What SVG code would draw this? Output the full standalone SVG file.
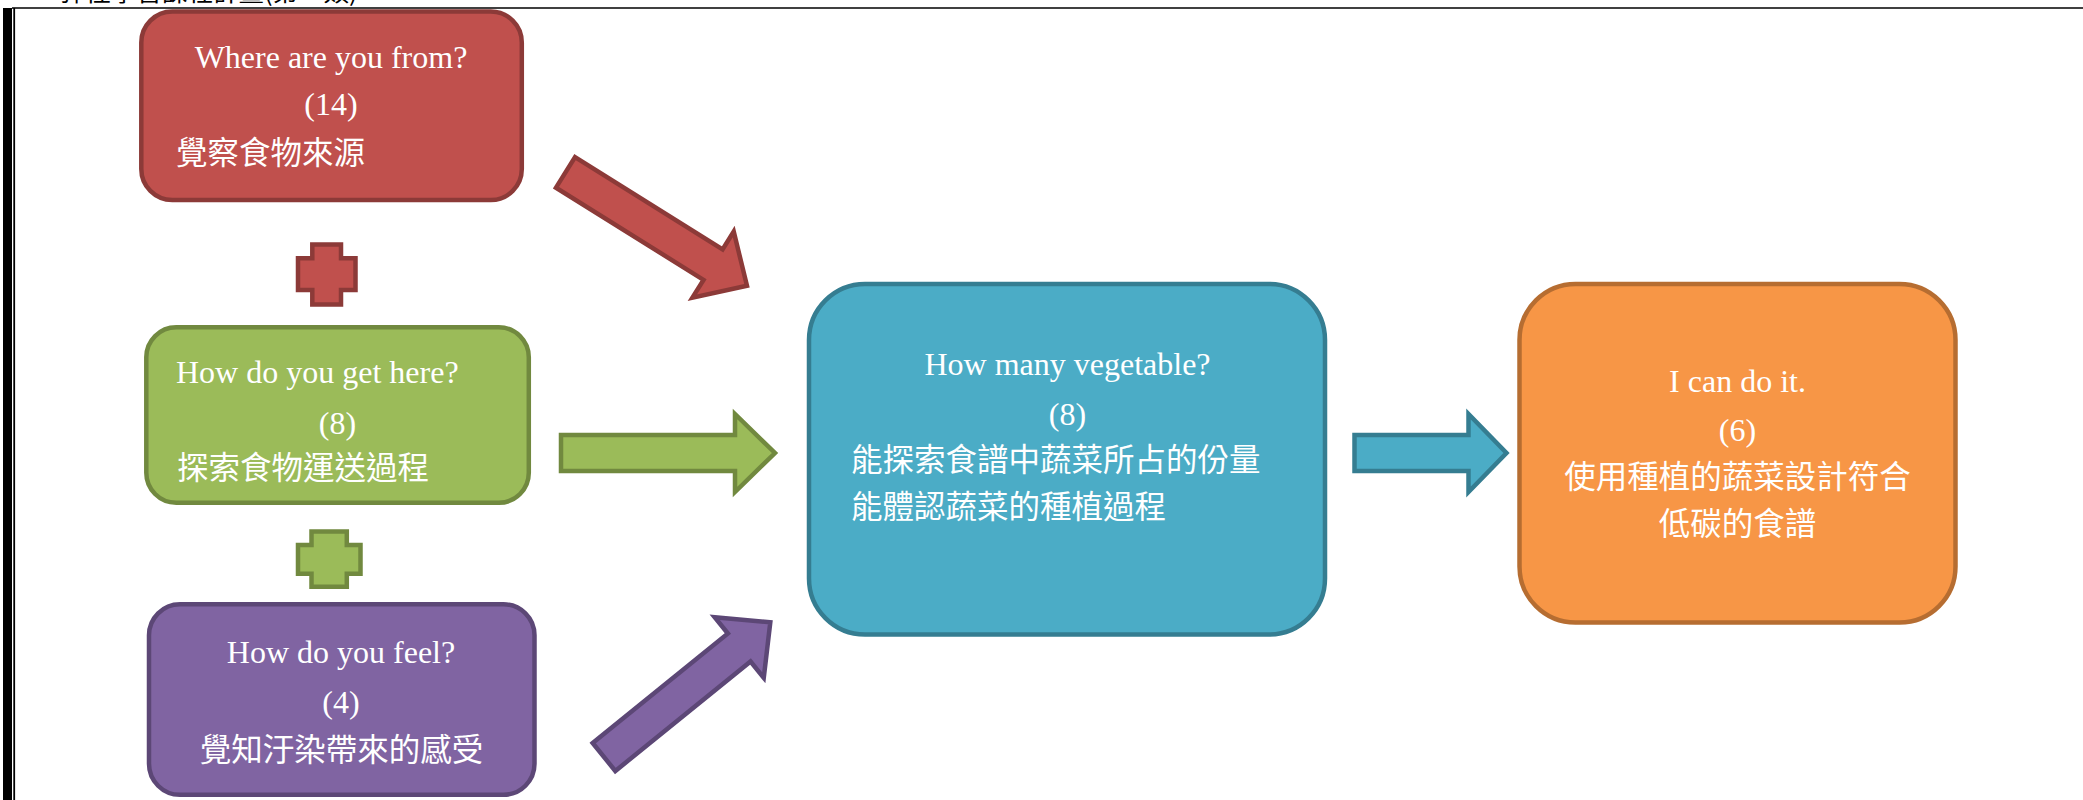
<svg xmlns="http://www.w3.org/2000/svg" xmlns:xlink="http://www.w3.org/1999/xlink" width="2083" height="800" viewBox="0 0 2083 800">
<style>
.en{font-family:"Liberation Serif","Times New Roman",serif;font-size:32px;fill:#ffffff}
.zh{font-family:"Noto Sans CJK TC","Noto Sans CJK SC",sans-serif;font-size:31.5px;fill:#ffffff}
.mid{text-anchor:middle}
.box{stroke-width:4.5}
.arw{stroke-width:4.5;stroke-linejoin:miter}
.red{fill:#C0504D;stroke:#8C3A38}
.green{fill:#9BBB59;stroke:#71893F}
.purple{fill:#8064A2;stroke:#5C4776}
.blue{fill:#4BACC6;stroke:#357D91}
.orange{fill:#F79646;stroke:#B66D31}
</style>
<defs>
<path id="arrowLong" d="M0,-18 L174,-18 L174,-39 L214,0 L174,39 L174,18 L0,18 Z"/>
<path id="arrowShort" d="M0,-18 L114,-18 L114,-39 L152,0 L114,39 L114,18 L0,18 Z"/>
</defs>
<rect x="0" y="0" width="2083" height="800" fill="#ffffff"/>
<g id="page-frame">
<text x="60" y="0.5" style="font-family:'Noto Sans CJK TC',sans-serif;font-size:25.5px;fill:#000">彈性學習課程計畫(第一類)</text>
<line x1="12" y1="8" x2="2083" y2="8" stroke="#000" stroke-width="1.3"/>
<rect x="3" y="8" width="9" height="792" fill="#000"/>
<rect x="13.3" y="8" width="1.8" height="792" fill="#000"/>
</g>
<g id="connectors">
<use xlink:href="#arrowLong" class="arw red" transform="translate(565.5,172.4) rotate(32)"/>
<use xlink:href="#arrowLong" class="arw green" transform="translate(561,453)"/>
<use xlink:href="#arrowLong" class="arw purple" transform="translate(604,757) rotate(-39)"/>
<use xlink:href="#arrowShort" class="arw blue" transform="translate(1354.5,453)"/>
<path id="plus-red" class="arw red" d="M312.3,244.5 H341 V258.3 H355.5 V290 H341 V304.5 H312.3 V290 H298 V258.3 H312.3 Z"/>
<path id="plus-green" class="arw green" d="M311.5,531.5 H346.8 V545 H360.5 V573.8 H346.8 V586.8 H311.5 V573.8 H298 V545 H311.5 Z"/>
</g>
<g id="node-where">
<rect class="box red" x="141.3" y="11.5" width="380.5" height="188.5" rx="31" ry="31"/>
<text class="en mid" x="331" y="68">Where are you from?</text>
<text class="en mid" x="331" y="115">(14)</text>
<text class="zh" x="176" y="164">覺察食物來源</text>
</g>
<g id="node-how-get">
<rect class="box green" x="146.3" y="327.3" width="382.5" height="175.5" rx="30" ry="30"/>
<text class="en" x="176" y="383">How do you get here?</text>
<text class="en mid" x="337.5" y="434">(8)</text>
<text class="zh" x="177" y="479">探索食物運送過程</text>
</g>
<g id="node-how-feel">
<rect class="box purple" x="149" y="604.3" width="385.5" height="190.5" rx="31" ry="31"/>
<text class="en mid" x="341" y="663">How do you feel?</text>
<text class="en mid" x="341" y="713">(4)</text>
<text class="zh mid" x="341.5" y="761">覺知汙染帶來的感受</text>
</g>
<g id="node-how-many">
<rect class="box blue" x="809" y="284" width="516" height="350.5" rx="56" ry="56"/>
<text class="en mid" x="1067.5" y="375">How many vegetable?</text>
<text class="en mid" x="1067.5" y="425">(8)</text>
<text class="zh" x="851" y="471">能探索食譜中蔬菜所占的份量</text>
<text class="zh" x="851" y="518">能體認蔬菜的種植過程</text>
</g>
<g id="node-can-do">
<rect class="box orange" x="1519.5" y="284" width="436" height="338.5" rx="56" ry="56"/>
<text class="en mid" x="1737.5" y="392">I can do it.</text>
<text class="en mid" x="1737.5" y="441">(6)</text>
<text class="zh mid" x="1737.5" y="488">使用種植的蔬菜設計符合</text>
<text class="zh mid" x="1737.5" y="535">低碳的食譜</text>
</g>
</svg>
